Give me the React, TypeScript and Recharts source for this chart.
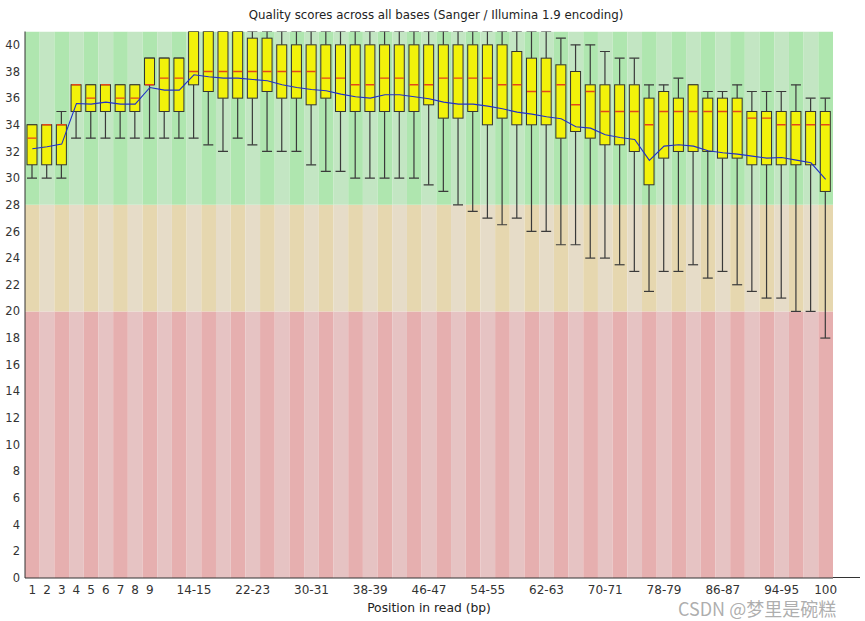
import React from 'react';
import { ComposedChart, Bar, Line, XAxis, YAxis, ReferenceArea, Label } from 'recharts';

// base positions (FastQC groups 10..99 in pairs)
const positions = [
  '1', '2', '3', '4', '5', '6', '7', '8', '9',
  '10-11', '12-13', '14-15', '16-17', '18-19', '20-21', '22-23', '24-25', '26-27', '28-29',
  '30-31', '32-33', '34-35', '36-37', '38-39', '40-41', '42-43', '44-45', '46-47', '48-49',
  '50-51', '52-53', '54-55', '56-57', '58-59', '60-61', '62-63', '64-65', '66-67', '68-69',
  '70-71', '72-73', '74-75', '76-77', '78-79', '80-81', '82-83', '84-85', '86-87', '88-89',
  '90-91', '92-93', '94-95', '96-97', '98-99', '100',
];

const whiskerLow = [
  30, 30, 30, 33, 33, 33, 33, 33, 33, 33, 33, 33, 32.5, 32, 33, 32.5, 32, 32, 32,
  31, 30.5, 30.5, 30, 30, 30, 30, 30, 29.5, 29, 28, 27.5, 27, 26.5, 27, 26, 26, 25,
  25, 24, 24, 23.5, 23, 21.5, 23, 23, 23.5, 22.5, 23, 22, 21.5, 21, 21, 20, 20, 18,
];
const lowerQuartile = [
  31, 31, 31, 35, 35, 35, 35, 35, 37, 35, 35, 37, 36.5, 36, 36, 36, 36.5, 36, 36,
  35.5, 36, 35, 35, 35, 35, 35, 35, 35.5, 34.5, 34.5, 35, 34, 34.5, 34, 34, 34, 33,
  33.5, 33, 32.5, 32.5, 32, 29.5, 31.5, 32, 32, 32, 31.5, 31.5, 31, 31, 31, 31, 31, 29,
];
const medians = [
  33, 34, 34, 37, 36, 37, 36, 36, 37, 37.5, 37.5, 38, 38, 38, 38, 38, 38, 38, 38,
  38, 37.5, 37.5, 37, 37, 37.5, 37.5, 37, 37, 37.5, 37.5, 37.5, 37.5, 37, 37, 36.5, 36.5, 37,
  35.5, 36.5, 35, 35, 35, 34, 35, 35, 35, 35, 35, 35, 34.5, 34.5, 34, 34, 34, 34,
];
const upperQuartile = [
  34, 34, 34, 37, 37, 37, 37, 37, 39, 39, 39, 41, 41, 41, 41, 40.5, 40.5, 40, 40,
  40, 40, 40, 40, 40, 40, 40, 40, 40, 40, 40, 40, 40, 40, 39.5, 39, 39, 38.5,
  38, 37, 37, 37, 37, 36, 36.5, 36, 37, 36, 36, 36, 35, 35, 35, 35, 35, 35,
];
const whiskerHigh = [
  34, 34, 35, 37, 37, 37, 37, 37, 39, 39, 39, 41, 41, 41, 41, 41, 41, 41, 41,
  41, 41, 41, 41, 41, 41, 41, 41, 41, 41, 41, 41, 41, 41, 41, 41, 41, 40.5,
  40, 40, 39.5, 39, 39, 37, 37, 37.5, 37, 36.5, 36.5, 37, 36.5, 36.5, 36.5, 37, 36, 36,
];
const means = [
  32.2, 32.35, 32.55, 35.6, 35.55, 35.7, 35.55, 35.55, 36.8, 36.6, 36.6, 37.75, 37.6, 37.5, 37.5, 37.4, 37.3, 37.0, 36.8,
  36.65, 36.55, 36.3, 36.1, 36.0, 36.25, 36.25, 36.1, 35.95, 35.7, 35.55, 35.55, 35.4, 35.2, 34.95, 34.8, 34.6, 34.45,
  33.85, 33.75, 33.25, 33.05, 32.9, 31.33, 32.4, 32.5, 32.4, 32.05, 31.9, 31.8, 31.65, 31.5, 31.55, 31.35, 31.15, 29.9,
];

const shownTicks = [
  '1', '2', '3', '4', '5', '6', '7', '8', '9', '14-15', '22-23', '30-31', '38-39',
  '46-47', '54-55', '62-63', '70-71', '78-79', '86-87', '94-95', '100',
];
const yTicks = [0, 2, 4, 6, 8, 10, 12, 14, 16, 18, 20, 22, 24, 26, 28, 30, 32, 34, 36, 38, 40];

// quality zones: poor / reasonable / good
const zoneBounds = [0, 20, 28, 41];
const zoneColors = [
  ['#e6afaf', '#e6c3c3'],
  ['#e6d7af', '#e6dcc8'],
  ['#afe6af', '#c3e6c3'],
];

const data = positions.map((pos, i) => ({
  pos,
  low: whiskerLow[i],
  q1: lowerQuartile[i],
  median: medians[i],
  q3: upperQuartile[i],
  high: whiskerHigh[i],
  mean: means[i],
}));

const BoxShape = (props: any) => {
  const { x, y, width, height, payload } = props;
  const top = Math.min(y, y + height);
  const bottom = Math.max(y, y + height);
  const range = payload.high - payload.low;
  const toPx = (v: number) => (range === 0 ? top : bottom - ((v - payload.low) / range) * (bottom - top));
  const cx = x + width / 2;
  const yq1 = toPx(payload.q1);
  const yq3 = toPx(payload.q3);
  const ymed = toPx(payload.median);
  const half = width / 2;
  const wc = '#3a3a3a';
  return (
    <g>
      <line x1={cx} x2={cx} y1={top} y2={yq3} stroke={wc} strokeWidth={1.2} />
      <line x1={cx} x2={cx} y1={yq1} y2={bottom} stroke={wc} strokeWidth={1.2} />
      <line x1={cx - half} x2={cx + half} y1={top} y2={top} stroke={wc} strokeWidth={1.2} />
      <line x1={cx - half} x2={cx + half} y1={bottom} y2={bottom} stroke={wc} strokeWidth={1.2} />
      <rect x={x} y={yq3} width={width} height={Math.max(yq1 - yq3, 0)} fill="#f2f20a" stroke="#333" strokeWidth={1} />
      <line x1={x + 0.5} x2={x + width - 0.5} y1={ymed} y2={ymed} stroke="#e2471c" strokeWidth={1.4} />
    </g>
  );
};

const axisText = { fontFamily: 'DejaVu Sans', fill: '#333' };

export default function App() {
  return (
    <div style={{ position: 'absolute', left: 0, top: 0, width: 865, height: 621, background: '#fff' }}>
      <div
        style={{
          position: 'absolute', top: 8, left: 0, width: 872, textAlign: 'center',
          fontFamily: 'DejaVu Sans', fontSize: 11.8, color: '#222',
        }}
      >
        Quality scores across all bases (Sanger / Illumina 1.9 encoding)
      </div>
      <ComposedChart
        width={865}
        height={621}
        data={data}
        margin={{ top: 31.5, right: 32, bottom: 0, left: 0 }}
        barCategoryGap={0}
      >
        {positions.map((pos, i) =>
          zoneColors.map((c, z) => (
            <ReferenceArea
              key={`${pos}-${z}`}
              x1={pos}
              x2={pos}
              y1={zoneBounds[z]}
              y2={zoneBounds[z + 1]}
              fill={c[i % 2]}
              fillOpacity={1}
              stroke="none"
              ifOverflow="hidden"
            />
          ))
        )}
        <XAxis
          dataKey="pos"
          type="category"
          height={43}
          interval={0}
          tickLine={false}
          tickSize={0}
          tickMargin={7}
          axisLine={{ stroke: '#333' }}
          tick={{ ...axisText, fontSize: 12 }}
          tickFormatter={(v: string) => (shownTicks.includes(v) ? v : '')}
        >
          <Label
            value="Position in read (bp)"
            position="insideBottom"
            offset={9}
            style={{ fontFamily: 'DejaVu Sans', fontSize: 12.3, fill: '#222' }}
          />
        </XAxis>
        <YAxis
          type="number"
          domain={[0, 41]}
          ticks={yTicks}
          interval={0}
          width={25}
          tickLine={false}
          tickSize={0}
          tickMargin={5}
          axisLine={{ stroke: '#333' }}
          tick={{ ...axisText, fontSize: 11.5 }}
          allowDataOverflow
        />
        <Bar
          dataKey={(d: any) => [d.low, d.high]}
          barSize={10}
          shape={BoxShape}
          isAnimationActive={false}
        />
        <Line
          type="linear"
          dataKey="mean"
          stroke="#2030c8"
          strokeWidth={1.1}
          dot={false}
          activeDot={false}
          isAnimationActive={false}
        />
      </ComposedChart>
      <div style={{ position: 'absolute', left: 833, top: 577, width: 27, height: 1, background: '#333' }} />
      <div
        style={{
          position: 'absolute', left: 678, top: 599, fontFamily: '"Noto Sans CJK SC", "Noto Sans"',
          fontSize: 18, lineHeight: '19px', color: 'rgba(160,160,160,0.85)', whiteSpace: 'nowrap',
        }}
      >
        CSDN @梦里是碗糕
      </div>
    </div>
  );
}
